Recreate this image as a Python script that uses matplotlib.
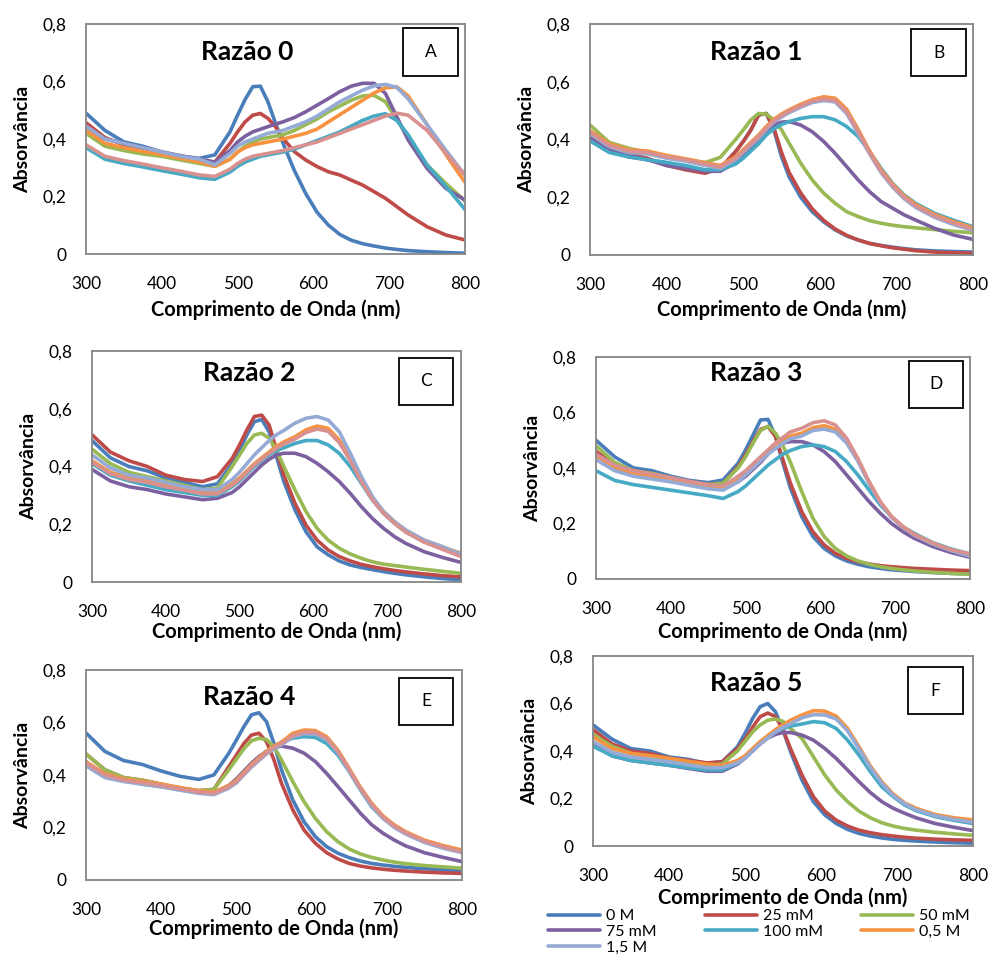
import matplotlib
matplotlib.use("Agg")
import matplotlib.pyplot as plt
from matplotlib.patches import Rectangle
from matplotlib.ticker import FuncFormatter

plt.rcParams['font.family'] = ['Lato', 'DejaVu Sans']

# comprimentos de onda (nm)
WL = [300, 325, 350, 375, 400, 425, 450, 470, 490, 500, 510, 520, 530, 540, 550,
      560, 575, 590, 605, 620, 635, 650, 665, 680, 695, 710, 725, 750, 775, 800]

SERIES = ["0 M", "25 mM", "50 mM", "75 mM", "100 mM", "0,5 M", "1,5 M", None]
COLORS = ["#4A7EBB", "#BE4B48", "#98B954", "#7D60A0", "#46AAC5", "#F69240", "#95ABD6", "#D9918F"]

# ordem das linhas: 0 M, 25 mM, 50 mM, 75 mM, 100 mM, 0,5 M, 1,5 M, rosa
RAZAO_0 = [
    [.49, .43, .39, .375, .355, .34, .333, .345, .425, .483, .538, .582, .584, .53, .455, .385, .29, .21, .145, .10, .068, .048, .036, .028, .021, .016, .012, .008, .005, .003],
    [.457, .405, .38, .365, .35, .337, .327, .32, .385, .425, .46, .483, .489, .472, .443, .402, .356, .327, .304, .286, .275, .257, .24, .217, .194, .165, .136, .095, .066, .049],
    [.42, .375, .36, .348, .34, .327, .315, .305, .33, .355, .375, .39, .40, .405, .41, .415, .43, .45, .47, .495, .515, .535, .55, .552, .53, .47, .405, .31, .245, .185],
    [.44, .40, .385, .37, .355, .342, .33, .32, .36, .39, .41, .425, .434, .443, .452, .46, .475, .495, .518, .541, .565, .584, .594, .594, .559, .478, .397, .298, .228, .188],
    [.37, .33, .315, .303, .29, .278, .265, .26, .285, .305, .32, .33, .34, .345, .35, .355, .365, .38, .395, .41, .425, .445, .465, .48, .488, .465, .415, .31, .235, .155],
    [.43, .385, .37, .357, .345, .333, .32, .305, .33, .355, .37, .38, .385, .39, .395, .40, .41, .42, .435, .46, .485, .51, .535, .56, .578, .582, .55, .45, .345, .25],
    [.445, .40, .385, .37, .355, .34, .33, .31, .35, .375, .39, .40, .41, .42, .425, .43, .445, .46, .48, .505, .53, .55, .57, .585, .59, .58, .54, .45, .36, .275],
    [.38, .34, .325, .313, .30, .288, .275, .27, .295, .315, .33, .34, .345, .35, .355, .36, .37, .38, .39, .405, .42, .435, .45, .465, .48, .49, .483, .43, .35, .275],
]
RAZAO_1 = [
    [.41, .365, .34, .33, .32, .305, .285, .30, .358, .393, .433, .485, .49, .433, .34, .27, .20, .15, .115, .087, .066, .052, .04, .033, .027, .022, .018, .014, .012, .01],
    [.41, .37, .35, .335, .31, .295, .283, .30, .358, .393, .433, .485, .49, .44, .355, .285, .215, .16, .12, .09, .068, .052, .04, .032, .025, .02, .015, .01, .008, .006],
    [.45, .39, .37, .355, .34, .33, .32, .338, .40, .433, .468, .49, .488, .468, .433, .387, .318, .26, .214, .179, .15, .133, .119, .11, .103, .098, .094, .088, .082, .077],
    [.41, .365, .345, .33, .31, .30, .29, .29, .32, .345, .37, .40, .43, .45, .46, .462, .45, .427, .393, .352, .306, .26, .219, .185, .162, .139, .121, .092, .069, .054],
    [.395, .355, .34, .33, .32, .31, .295, .295, .315, .335, .36, .385, .415, .437, .452, .462, .473, .479, .479, .468, .445, .41, .358, .30, .248, .208, .179, .144, .12, .098],
    [.43, .385, .365, .36, .345, .333, .32, .31, .34, .365, .39, .415, .445, .47, .488, .503, .522, .538, .548, .543, .505, .435, .36, .295, .245, .205, .175, .14, .115, .094],
    [.42, .375, .355, .35, .335, .325, .31, .30, .33, .355, .38, .405, .435, .46, .478, .493, .512, .528, .535, .53, .49, .42, .35, .285, .235, .195, .165, .13, .105, .085],
    [.425, .38, .36, .355, .34, .33, .315, .305, .335, .36, .385, .41, .44, .465, .483, .498, .517, .533, .54, .535, .497, .428, .355, .29, .24, .20, .17, .135, .11, .089],
]
RAZAO_2 = [
    [.49, .43, .40, .385, .36, .345, .33, .34, .41, .457, .51, .555, .563, .52, .434, .348, .25, .174, .122, .094, .073, .059, .05, .043, .036, .03, .025, .018, .012, .008],
    [.51, .45, .42, .40, .37, .355, .348, .365, .428, .475, .527, .573, .578, .544, .457, .37, .273, .197, .145, .111, .088, .073, .061, .053, .046, .04, .035, .028, .022, .018],
    [.46, .41, .38, .365, .35, .335, .32, .325, .40, .44, .48, .509, .515, .498, .457, .40, .319, .244, .186, .145, .117, .097, .082, .07, .062, .057, .052, .044, .037, .03],
    [.39, .35, .33, .32, .305, .295, .285, .29, .31, .33, .355, .38, .405, .425, .44, .446, .446, .434, .411, .382, .348, .307, .261, .22, .186, .157, .134, .105, .085, .068],
    [.41, .37, .35, .335, .32, .31, .30, .30, .33, .35, .375, .40, .42, .44, .455, .465, .48, .49, .49, .475, .446, .40, .342, .284, .238, .203, .174, .14, .117, .10],
    [.42, .38, .36, .35, .335, .32, .31, .31, .34, .36, .385, .41, .43, .45, .47, .485, .503, .527, .54, .532, .492, .428, .353, .29, .244, .209, .18, .145, .122, .098],
    [.44, .395, .37, .36, .345, .33, .32, .32, .355, .38, .41, .44, .465, .49, .51, .525, .55, .567, .573, .561, .521, .446, .365, .296, .244, .209, .18, .145, .122, .095],
    [.415, .375, .355, .345, .33, .318, .305, .305, .335, .355, .38, .405, .425, .445, .463, .478, .495, .518, .53, .522, .483, .42, .347, .285, .238, .203, .173, .138, .113, .088],
]
RAZAO_3 = [
    [.50, .44, .40, .39, .37, .355, .347, .357, .417, .465, .519, .573, .575, .513, .417, .327, .225, .153, .11, .083, .065, .053, .044, .038, .033, .03, .027, .023, .02, .018],
    [.46, .41, .39, .38, .365, .35, .34, .345, .405, .447, .495, .539, .549, .513, .429, .345, .243, .17, .123, .092, .074, .062, .054, .048, .044, .041, .038, .035, .032, .03],
    [.48, .42, .39, .38, .365, .35, .34, .345, .40, .44, .49, .535, .55, .525, .48, .42, .315, .219, .153, .11, .083, .065, .053, .044, .038, .033, .029, .024, .02, .017],
    [.44, .40, .38, .37, .355, .34, .33, .325, .35, .37, .395, .42, .45, .475, .49, .495, .495, .483, .459, .423, .375, .327, .279, .237, .20, .171, .147, .117, .095, .078],
    [.39, .355, .34, .33, .32, .31, .30, .29, .315, .335, .36, .385, .41, .43, .45, .463, .477, .483, .477, .459, .423, .375, .321, .267, .225, .189, .165, .131, .108, .09],
    [.44, .40, .38, .37, .36, .348, .335, .33, .36, .385, .41, .435, .46, .48, .50, .515, .525, .545, .552, .54, .497, .43, .35, .278, .225, .189, .161, .129, .105, .087],
    [.43, .39, .37, .36, .35, .337, .325, .32, .35, .375, .40, .425, .45, .47, .49, .505, .515, .535, .54, .53, .49, .425, .345, .275, .222, .186, .158, .126, .102, .082],
    [.45, .41, .39, .378, .365, .352, .34, .335, .37, .39, .415, .44, .465, .49, .51, .53, .543, .563, .57, .555, .507, .435, .351, .279, .225, .189, .161, .129, .105, .09],
]
RAZAO_4 = [
    [.56, .49, .455, .44, .415, .395, .383, .40, .483, .533, .584, .629, .637, .603, .52, .419, .305, .222, .165, .127, .102, .085, .072, .063, .057, .052, .048, .043, .039, .036],
    [.48, .42, .39, .38, .365, .35, .34, .345, .432, .476, .52, .552, .559, .527, .457, .368, .267, .19, .14, .104, .08, .063, .053, .046, .041, .037, .034, .03, .027, .025],
    [.48, .42, .39, .38, .365, .35, .34, .345, .42, .46, .50, .53, .54, .535, .508, .457, .375, .298, .235, .184, .146, .118, .099, .086, .076, .068, .062, .055, .05, .045],
    [.45, .40, .38, .37, .36, .345, .335, .33, .36, .385, .415, .445, .47, .49, .505, .51, .502, .483, .451, .406, .356, .305, .254, .21, .178, .152, .13, .104, .086, .07],
    [.44, .395, .38, .365, .355, .345, .335, .33, .36, .38, .41, .44, .465, .49, .51, .525, .54, .546, .543, .52, .476, .413, .343, .279, .235, .203, .178, .146, .124, .108],
    [.45, .405, .385, .375, .365, .352, .34, .335, .36, .38, .41, .44, .465, .49, .51, .525, .559, .571, .569, .546, .495, .425, .353, .292, .244, .21, .184, .152, .131, .114],
    [.435, .39, .375, .365, .355, .342, .33, .325, .35, .37, .40, .43, .455, .48, .50, .515, .545, .557, .555, .535, .485, .415, .345, .283, .235, .20, .175, .143, .121, .104],
    [.445, .40, .38, .37, .36, .347, .335, .33, .355, .375, .405, .435, .46, .485, .505, .52, .55, .563, .562, .54, .49, .42, .349, .288, .24, .205, .18, .148, .126, .108],
]
RAZAO_5 = [
    [.51, .45, .41, .40, .375, .365, .348, .355, .418, .474, .537, .587, .60, .566, .488, .397, .278, .187, .131, .095, .07, .053, .042, .034, .028, .024, .021, .017, .014, .012],
    [.49, .43, .40, .39, .37, .36, .35, .355, .41, .45, .50, .545, .56, .545, .49, .41, .299, .208, .147, .109, .084, .067, .056, .048, .042, .037, .033, .029, .026, .024],
    [.47, .42, .39, .38, .365, .352, .34, .345, .40, .44, .48, .51, .53, .535, .525, .495, .453, .376, .299, .236, .187, .147, .119, .098, .084, .074, .067, .058, .051, .045],
    [.43, .38, .36, .35, .34, .327, .315, .315, .345, .37, .40, .43, .455, .47, .478, .478, .467, .446, .411, .369, .32, .271, .225, .187, .159, .138, .119, .095, .079, .065],
    [.42, .38, .36, .35, .34, .33, .32, .32, .35, .375, .405, .435, .46, .48, .495, .505, .514, .524, .519, .495, .446, .383, .313, .25, .208, .173, .149, .124, .108, .095],
    [.46, .41, .39, .38, .37, .357, .345, .34, .36, .38, .41, .44, .465, .49, .51, .53, .552, .57, .568, .547, .495, .418, .337, .271, .219, .182, .159, .133, .119, .11],
    [.44, .395, .375, .365, .355, .342, .33, .33, .35, .37, .40, .43, .455, .48, .50, .515, .54, .553, .552, .535, .485, .41, .33, .265, .213, .178, .153, .128, .112, .10],
]

PANELS = [
    # dados, titulo, letra, [left, bottom, w, h], pos titulo, caixa (x0, y0, x1, y1), labelpad x
    (RAZAO_0, "Razão 0", "A", [0.0867, 0.7351, 0.3820, 0.2398], (0.425, 0.878), (0.836, 0.774, 0.982, 0.983), 5),
    (RAZAO_1, "Razão 1", "B", [0.5948, 0.7341, 0.3861, 0.2409], (0.433, 0.879), (0.838, 0.775, 0.982, 0.978), 4.5),
    (RAZAO_2, "Razão 2", "C", [0.0927, 0.3931, 0.3720, 0.2409], (0.425, 0.905), (0.832, 0.766, 0.978, 0.970), 1),
    (RAZAO_3, "Razão 3", "D", [0.6008, 0.3963, 0.3770, 0.2315], (0.428, 0.928), (0.837, 0.770, 0.981, 0.982), 3),
    (RAZAO_4, "Razão 4", "E", [0.0867, 0.0824, 0.3790, 0.2190], (0.434, 0.871), (0.832, 0.738, 0.976, 0.962), 0),
    (RAZAO_5, "Razão 5", "F", [0.5978, 0.1178, 0.3830, 0.1981], (0.429, 0.858), (0.829, 0.695, 0.974, 0.942), 2),
]


def fmt_y(v, pos):
    if abs(v) < 1e-9:
        return "0"
    return f"{v:.1f}".replace(".", ",")


fig = plt.figure(figsize=(9.92, 9.59), dpi=100)
handles = {}

for data, title, letter, rect, tpos, box, xpad in PANELS:
    ax = fig.add_axes(rect)
    for i, ys in enumerate(data):
        ln, = ax.plot(WL, ys, color=COLORS[i], lw=2.6, solid_capstyle="round",
                      solid_joinstyle="round")
        if SERIES[i] is not None:
            handles[SERIES[i]] = ln
    ax.set_xlim(300, 800)
    ax.set_ylim(0, 0.8)
    ax.set_xticks([300, 400, 500, 600, 700, 800])
    ax.set_yticks([0, 0.2, 0.4, 0.6, 0.8])
    ax.yaxis.set_major_formatter(FuncFormatter(fmt_y))
    ax.tick_params(length=0, labelsize=12.5)
    ax.tick_params(axis="y", pad=14)
    ax.tick_params(axis="x", pad=16)
    for sp in ax.spines.values():
        sp.set_color("#868686")
        sp.set_linewidth(1.3)
    ax.set_xlabel("Comprimento de Onda (nm)", fontsize=14.5, fontweight="bold", labelpad=xpad)
    ax.set_ylabel("Absorvância", fontsize=14, fontweight="bold", labelpad=8)
    ax.text(tpos[0], tpos[1], title, transform=ax.transAxes, ha="center", va="center",
            fontsize=19, fontweight="bold")
    x0, y0, x1, y1 = box
    ax.add_patch(Rectangle((x0, y0), x1 - x0, y1 - y0, transform=ax.transAxes,
                           fill=True, facecolor="white", edgecolor="black", lw=1.3, zorder=5))
    ax.text((x0 + x1) / 2, (y0 + y1) / 2, letter, transform=ax.transAxes, ha="center",
            va="center", fontsize=12.5, zorder=6)

# legenda em tres colunas
cols = [["0 M", "75 mM", "1,5 M"], ["25 mM", "100 mM"], ["50 mM", "0,5 M"]]
col_x = [548, 705, 861]
for names, x in zip(cols, col_x):
    fig.legend([handles[n] for n in names], names, loc="upper left",
               bbox_to_anchor=(x / 992, 1 - 909 / 959), frameon=False, fontsize=11.5,
               handlelength=3.25, handletextpad=0.4, labelspacing=0.1,
               borderpad=0, borderaxespad=0)

fig.savefig("out.png", dpi=100)
